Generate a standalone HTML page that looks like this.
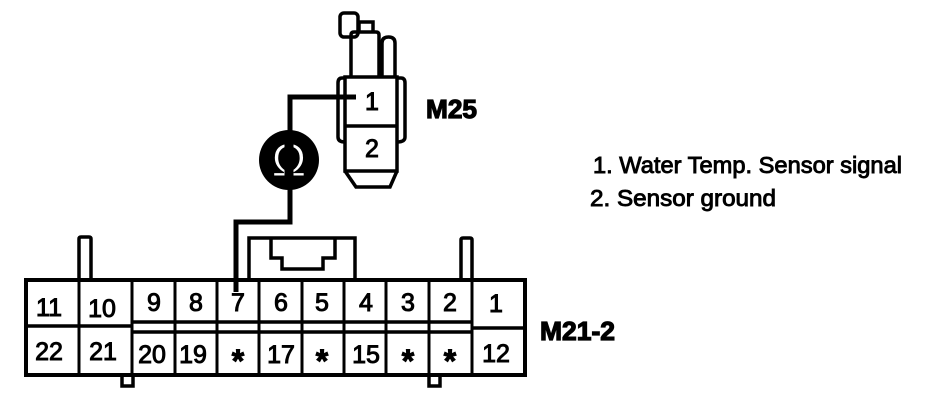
<!DOCTYPE html>
<html><head><meta charset="utf-8"><style>
html,body{margin:0;padding:0;background:#fff}
svg{display:block}
text{font-family:"Liberation Sans",sans-serif;fill:#000;stroke:#000;stroke-width:1}
.n{font-size:25px;text-anchor:middle}
.b{font-weight:bold;font-size:26px;stroke-width:1.2}
.l{font-size:23px;stroke-width:.9}
.s{font-size:32px;font-weight:bold;text-anchor:middle}
</style></head><body>
<svg width="944" height="406" viewBox="0 0 944 406" xmlns="http://www.w3.org/2000/svg">
<g fill="none" stroke="#000" stroke-width="3.500">
<!-- sensor -->
<rect x="340" y="13" width="18" height="24" rx="4"/>
<path d="M359 32V22H373V32"/>
<path d="M351 77V35Q351 32 354 32H376Q379 32 379 35V77"/>
<path d="M382 77V43Q382 37 388.500 37Q395 37 395 43V77"/>
<path d="M345 78H342Q338 78 338 83V137Q338 142 345 142M397 78H401Q405 78 405 83V137Q405 142 397 142"/>
<path d="M345 77H397V171H345Z"/>
<path d="M345 126H397"/>
<path d="M345 171L356 187H390L397 171"/>
<!-- connector -->
<path d="M26 280H525V375H26Z" stroke-width="4"/>
<path d="M79 280V375M132 280V375M175 280V375M217 280V375M259 280V375M302 280V375M344 280V375M386 280V375M429 280V375M472 280V375" stroke-width="3"/>
<path d="M26 326H132M132 322H472M132 332H472M472 328H525"/>
<path d="M79 279V239Q79 237 81 237H89Q91 237 91 239V279M461 279V240Q461 238 463 238H470Q472 238 472 240V279"/>
<path d="M122 375V386H133V375M429 375V386H440V375"/>
<path d="M249 279V238H355V279"/>
<path d="M271 238V258H282V269H323V258H335V238"/>
</g>
<!-- wire -->
<path d="M236 292V222H290V97H356" fill="none" stroke="#000" stroke-width="5"/>
<circle cx="289" cy="160" r="30" fill="#000"/>
<text x="289" y="176" style="font-size:46px;fill:#fff;stroke:#000;stroke-width:1" text-anchor="middle">Ω</text>
<path d="M289 142V182" stroke="#000" stroke-width="9"/>
<!-- sensor labels -->
<text x="372" y="110" class="n">1</text>
<text x="372" y="157" class="n">2</text>
<text x="426" y="118" class="b" textLength="51" lengthAdjust="spacingAndGlyphs">M25</text>
<!-- legend -->
<text x="593" y="173" class="l" textLength="309" lengthAdjust="spacingAndGlyphs">1. Water Temp. Sensor signal</text>
<text x="590" y="206" class="l" textLength="186" lengthAdjust="spacingAndGlyphs">2. Sensor ground</text>
<!-- pins -->
<text x="49" y="316" class="n">11</text>
<text x="102" y="317" class="n">10</text>
<text x="154" y="311" class="n">9</text>
<text x="196" y="311" class="n">8</text>
<text x="238" y="311" class="n">7</text>
<text x="281" y="311" class="n">6</text>
<text x="322" y="311" class="n">5</text>
<text x="366" y="311" class="n">4</text>
<text x="408" y="311" class="n">3</text>
<text x="450" y="311" class="n">2</text>
<text x="496" y="312" class="n">1</text>
<text x="49" y="360" class="n">22</text>
<text x="103" y="360" class="n">21</text>
<text x="152" y="363" class="n">20</text>
<text x="193" y="363" class="n">19</text>
<text x="238" y="372" class="s">*</text>
<text x="281" y="363" class="n">17</text>
<text x="322" y="372" class="s">*</text>
<text x="366" y="363" class="n">15</text>
<text x="408" y="372" class="s">*</text>
<text x="450" y="372" class="s">*</text>
<text x="496" y="362" class="n">12</text>
<text x="540" y="340" class="b" textLength="75" lengthAdjust="spacingAndGlyphs">M21-2</text>
</svg>
</body></html>
